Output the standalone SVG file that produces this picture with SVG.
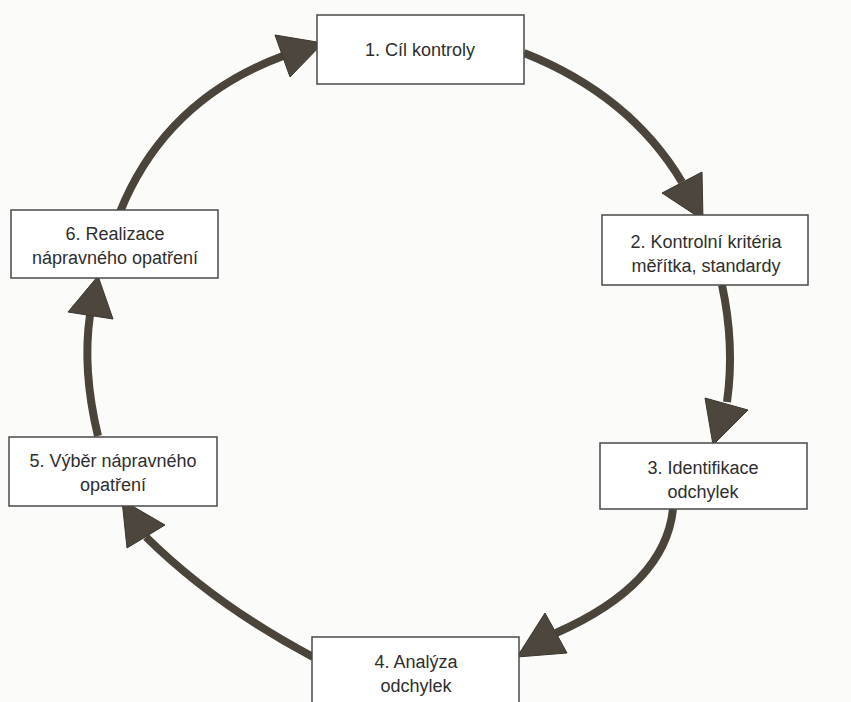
<svg xmlns="http://www.w3.org/2000/svg" width="851" height="702" viewBox="0 0 851 702">
<style>
.box{fill:#ffffff;stroke:#4a4a4a;stroke-width:1.5}
.t{font-family:"Liberation Sans",Arial,sans-serif;font-size:18px;fill:#2e2e2e;text-anchor:middle}
.ln{fill:none;stroke:#4b443b;stroke-width:8;stroke-linecap:butt}
.hd{fill:#4d463d;stroke:#3a352f;stroke-width:1;stroke-linejoin:round}
</style>
<rect x="0" y="0" width="851" height="702" fill="#fbfbf9"/>
<g id="connectors">
<path class="ln" d="M524,53 Q630,95 682,182"/>
<polygon class="hd" points="662,193 702,172 703,220"/>
<path class="ln" d="M722,285 Q735,345 727,402"/>
<polygon class="hd" points="705,398 748,410 713,445"/>
<path class="ln" d="M673,509 Q665,585 556,633"/>
<polygon class="hd" points="545,613 567,653 517,657"/>
<path class="ln" d="M313,657 Q215,605 146,537"/>
<polygon class="hd" points="122,500 127,548 165,525"/>
<path class="ln" d="M98,436 Q82,370 90,315"/>
<polygon class="hd" points="98,276 68,312 113,319"/>
<path class="ln" d="M120,212 Q165,100 283,56"/>
<polygon class="hd" points="323,43 275,35 290,77"/>
</g>
<g id="n1">
<rect class="box" x="317" y="15" width="207" height="69"/>
<text class="t" x="420" y="56">1. Cíl kontroly</text>
</g>
<g id="n2">
<rect class="box" x="602" y="215" width="206" height="70"/>
<text class="t" x="706" y="248">2. Kontrolní kritéria</text>
<text class="t" x="706" y="272">měřítka, standardy</text>
</g>
<g id="n3">
<rect class="box" x="600" y="443" width="207" height="66"/>
<text class="t" x="703" y="474">3. Identifikace</text>
<text class="t" x="703" y="498">odchylek</text>
</g>
<g id="n4">
<rect class="box" x="312" y="637" width="207" height="70"/>
<text class="t" x="416" y="668">4. Analýza</text>
<text class="t" x="416" y="692">odchylek</text>
</g>
<g id="n5">
<rect class="box" x="9" y="437" width="208" height="69"/>
<text class="t" x="113" y="467">5. Výběr nápravného</text>
<text class="t" x="113" y="491">opatření</text>
</g>
<g id="n6">
<rect class="box" x="11" y="210" width="207" height="68"/>
<text class="t" x="115" y="240">6. Realizace</text>
<text class="t" x="115" y="264">nápravného opatření</text>
</g>
</svg>
